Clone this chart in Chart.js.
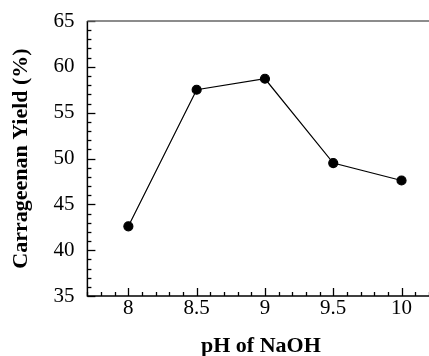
<!DOCTYPE html>
<html lang="en">
<head>
  <meta charset="utf-8">
  <title>Carrageenan Yield vs pH</title>
  <script src="https://cdn.jsdelivr.net/npm/chart.js"></script>
  <style>
    * { box-sizing:border-box; margin:0; padding:0 }
    body { background:#fff; width:429px; height:356px; overflow:hidden }
    canvas { display:block }
  </style>
</head>
<body>
  <!-- canvas a bit bigger than the window: the frame runs off the right edge like the original -->
  <canvas id="yieldChart" width="440" height="357"></canvas>

  <script>
  // ===== DATA =====
  const phValues    = [8, 8.5, 9, 9.5, 10];
  const yieldValues = [42.6, 57.5, 58.7, 49.5, 47.6];
  const xTicks      = [8, 8.5, 9, 9.5, 10];
  const yTicks      = [35, 40, 45, 50, 55, 60, 65];

  const serif = "'Liberation Serif', 'Times New Roman', serif";

  // inward tick marks + axis frame
  const axisFrame = {
    id: 'axisFrame',
    afterDraw(chart) {
      const { ctx, chartArea: a, scales: { x, y } } = chart;
      ctx.save();
      ctx.strokeStyle = '#000';
      ctx.lineWidth = 1.3;
      // y ticks, minor every 1
      for (let v = 35; v <= 65; v += 1) {
        const py = Math.round(y.getPixelForValue(v)) + 0.5;
        const len = v % 5 === 0 ? 8 : 4;
        ctx.beginPath(); ctx.moveTo(a.left, py); ctx.lineTo(a.left + len, py); ctx.stroke();
      }
      // x ticks, minor every 0.1
      for (let i = 77; i <= 102; i++) {
        const px = Math.round(x.getPixelForValue(i / 10)) + 0.5;
        const len = i % 5 === 0 ? 8 : 4;
        ctx.beginPath(); ctx.moveTo(px, a.bottom); ctx.lineTo(px, a.bottom - len); ctx.stroke();
      }
      // left + bottom axes
      ctx.lineWidth = 1.5;
      ctx.beginPath();
      ctx.moveTo(a.left, a.top); ctx.lineTo(a.left, a.bottom); ctx.lineTo(a.right, a.bottom);
      ctx.stroke();
      // top border (greyish)
      ctx.strokeStyle = '#666';
      ctx.beginPath(); ctx.moveTo(a.left, a.top); ctx.lineTo(a.right, a.top); ctx.stroke();
      ctx.restore();
    }
  };

  const ctx = document.getElementById('yieldChart').getContext('2d');
  new Chart(ctx, {
    type: 'scatter',
    data: {
      datasets: [{
        data: phValues.map((p, i) => ({ x: p, y: yieldValues[i] })),
        showLine: true,
        borderColor: '#000',
        borderWidth: 1.2,
        backgroundColor: '#000',
        pointRadius: 4.5,
        pointHoverRadius: 4.5
      }]
    },
    options: {
      responsive: false,
      animation: false,
      layout: { padding: { top: 21, right: 0, left: 0, bottom: 0 } },
      plugins: { legend: { display: false }, tooltip: { enabled: false } },
      scales: {
        x: {
          type: 'linear', min: 7.7, max: 10.24,
          afterBuildTicks: s => { s.ticks = xTicks.map(v => ({ value: v })); },
          grid: { display: false },
          border: { display: false },
          ticks: { color: '#000', font: { family: serif, size: 21, lineHeight: 1 }, padding: -6,
                   maxRotation: 0, autoSkip: false, callback: v => String(v) },
          title: { display: true, text: 'pH of NaOH', color: '#000',
                   font: { family: serif, size: 22, weight: 'bold', lineHeight: 1 },
                   padding: { top: 22, bottom: 0 } }
        },
        y: {
          type: 'linear', min: 35, max: 65,
          afterBuildTicks: s => { s.ticks = yTicks.map(v => ({ value: v })); },
          grid: { display: false },
          border: { display: false },
          ticks: { color: '#000', font: { family: serif, size: 21 }, padding: 5, autoSkip: false },
          title: { display: true, text: 'Carrageenan Yield (%)', color: '#000',
                   font: { family: serif, size: 22, weight: 'bold' }, padding: { top: 8, bottom: 14 } }
        }
      }
    },
    plugins: [axisFrame]
  });
  </script>
</body>
</html>
